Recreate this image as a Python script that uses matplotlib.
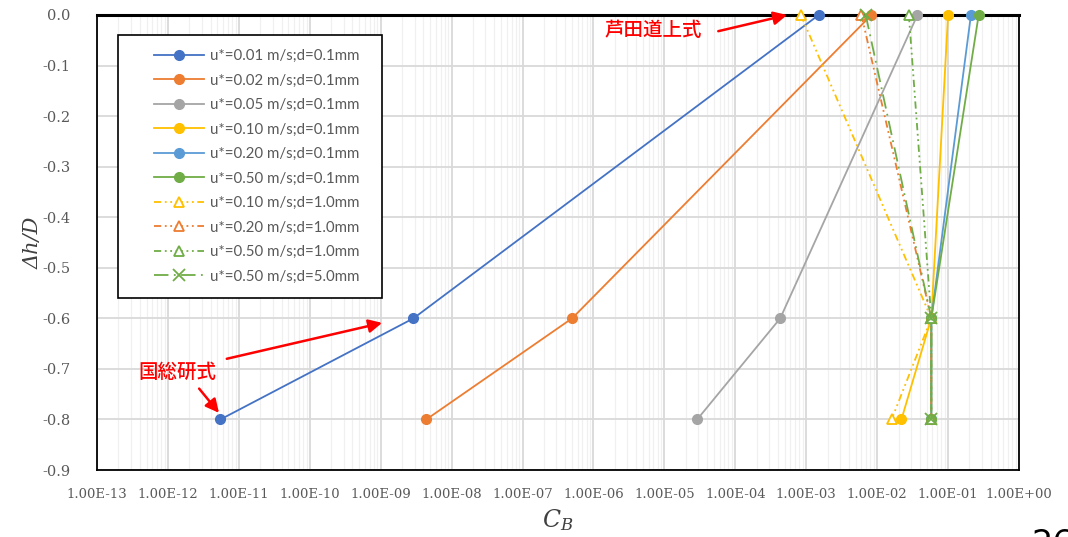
import numpy as np
import matplotlib
matplotlib.use('Agg')
import matplotlib.pyplot as plt
from matplotlib.ticker import LogLocator, FuncFormatter, NullFormatter
from matplotlib.patches import Rectangle

plt.rcParams['mathtext.fontset'] = 'dejavuserif'

# data: depth ratio and C_B for each case
dh = [0.0, -0.6, -0.8]
cb_u001 = [1.5e-3, 2.9e-9, 5.5e-12]
cb_u002 = [8.3e-3, 5.0e-7, 4.4e-9]
cb_u005 = [3.7e-2, 4.3e-4, 2.9e-5]
cb_u010 = [1.0e-1, 5.8e-2, 2.2e-2]
cb_u020 = [2.1e-1, 5.8e-2, 5.8e-2]
cb_u050 = [2.7e-1, 5.8e-2, 5.8e-2]
cb_u010_d1 = [8.4e-4, 5.8e-2, 1.6e-2]
cb_u020_d1 = [6.0e-3, 5.8e-2, 5.8e-2]
cb_u050_d1 = [2.8e-2, 5.8e-2, 5.8e-2]
cb_u050_d5 = [6.9e-3, 5.8e-2, 5.8e-2]

labels = [
    'u*=0.01 m/s;d=0.1mm', 'u*=0.02 m/s;d=0.1mm', 'u*=0.05 m/s;d=0.1mm',
    'u*=0.10 m/s;d=0.1mm', 'u*=0.20 m/s;d=0.1mm', 'u*=0.50 m/s;d=0.1mm',
    'u*=0.10 m/s;d=1.0mm', 'u*=0.20 m/s;d=1.0mm', 'u*=0.50 m/s;d=1.0mm',
    'u*=0.50 m/s;d=5.0mm',
]
y_ticks = [0.0, -0.1, -0.2, -0.3, -0.4, -0.5, -0.6, -0.7, -0.8, -0.9]

blue, orange, gray = '#4472C4', '#ED7D31', '#A5A5A5'
yellow, lblue, green = '#FFC000', '#5B9BD5', '#70AD47'

W, H = 1068, 537
fig = plt.figure(figsize=(W / 100, H / 100), dpi=100)
ax = fig.add_axes([97 / W, 1 - 470 / H, (1019 - 97) / W, (470 - 15) / H])

solid = [(cb_u001, blue), (cb_u002, orange), (cb_u005, gray),
         (cb_u010, yellow), (cb_u020, lblue), (cb_u050, green)]
handles = []
for (cb, c), lab in zip(solid, labels[:6]):
    h, = ax.plot(cb, dh, '-', color=c, lw=1.3, marker='o', ms=7,
                 mfc=c, mec=c, label=lab, clip_on=False, zorder=3)
    handles.append(h)

ddot = (0, (4, 2, 1, 2, 1, 2))
dashed = [(cb_u010_d1, yellow), (cb_u020_d1, orange), (cb_u050_d1, green)]
for (cb, c), lab in zip(dashed, labels[6:9]):
    h, = ax.plot(cb, dh, color=c, lw=1.3, ls=ddot, marker='^', ms=7,
                 mfc='white', mec=c, mew=1.3, label=lab, clip_on=False, zorder=3)
    handles.append(h)

h, = ax.plot(cb_u050_d5, dh, color=green, lw=1.3, ls=(0, (8, 3, 1, 3)),
             marker='x', ms=8, mew=1.3, label=labels[9], clip_on=False, zorder=3)
handles.append(h)

ax.set_xscale('log')
ax.set_xlim(1e-13, 1.0)
ax.set_ylim(-0.9, 0.0)
ax.xaxis.set_major_locator(LogLocator(base=10, numticks=20))
ax.xaxis.set_minor_locator(LogLocator(base=10, subs=np.arange(2, 10), numticks=200))
ax.xaxis.set_minor_formatter(NullFormatter())
ax.xaxis.set_major_formatter(FuncFormatter(lambda v, p: f'{v:.2E}'))
ax.set_yticks(y_ticks)
ax.set_yticklabels([f'{v:.1f}' if v != 0 else '0.0' for v in y_ticks])

ax.grid(True, which='major', axis='x', color='#D9D9D9', lw=1.3)
ax.grid(True, which='minor', axis='x', color='#F0F0F0', lw=0.9)
ax.grid(True, which='major', axis='y', color='#D9D9D9', lw=1.3)
ax.set_axisbelow(True)

ax.tick_params(which='both', length=0)
ax.tick_params(axis='x', pad=13)
ax.tick_params(axis='y', pad=19)
for lab in ax.get_xticklabels() + ax.get_yticklabels():
    lab.set_family('DejaVu Serif')
    lab.set_color('#595959')
for lab in ax.get_xticklabels():
    lab.set_fontsize(9.5)
for lab in ax.get_yticklabels():
    lab.set_fontsize(10.5)

for s in ['left', 'right', 'bottom']:
    ax.spines[s].set_color('black')
    ax.spines[s].set_linewidth(1.3)
ax.spines['top'].set_linewidth(2.2)
ax.spines['top'].set_zorder(2.5)

ax.set_xlabel('$C_B$', fontsize=17, color='#404040', labelpad=4)
ax.set_ylabel('Δh/D', fontsize=15, family='DejaVu Serif', style='italic',
              color='#404040', labelpad=0)

# legend box drawn by hand so the padding matches
x0, x1, y0, y1 = 118, 382, 35, 298
ax.add_patch(Rectangle(((x0 - 97) / 922, 1 - (y1 - 15) / 455), (x1 - x0) / 922,
                       (y1 - y0) / 455, transform=ax.transAxes, facecolor='white',
                       edgecolor='black', lw=1.2, zorder=4))
leg = ax.legend(handles=handles, loc='center left', frameon=False,
                bbox_to_anchor=((154 - 97) / 922, 1 - ((y0 + y1) / 2 - 15) / 455),
                borderpad=0, borderaxespad=0, handlelength=3.3, handletextpad=0.45,
                labelspacing=0.7, prop={'family': 'Lato', 'size': 10.8})
leg.set_zorder(5)
for t in leg.get_texts():
    t.set_color('#595959')

jp = {'family': 'Noto Sans CJK JP', 'size': 14, 'color': 'red', 'weight': 'medium'}
arrow = dict(arrowstyle='-|>', color='red', lw=1.8, mutation_scale=20, shrinkA=0, shrinkB=0)
ax.text(10 ** -5.16, -0.030, '芦田道上式', ha='center', va='center', **jp)
ax.annotate('', xy=(10 ** -3.27, 0.0), xytext=(10 ** -4.24, -0.032), arrowprops=arrow)
ax.text(10 ** -11.87, -0.706, '国総研式', ha='center', va='center', **jp)
ax.annotate('', xy=(10 ** -8.98, -0.609), xytext=(10 ** -11.17, -0.680), arrowprops=arrow)
ax.annotate('', xy=(10 ** -11.28, -0.787), xytext=(10 ** -11.56, -0.739), arrowprops=arrow)

fig.text(1031 / W, 1 - 528 / H, '26', fontsize=24, va='top', ha='left', color='black')

fig.savefig('out.png', dpi=100)
